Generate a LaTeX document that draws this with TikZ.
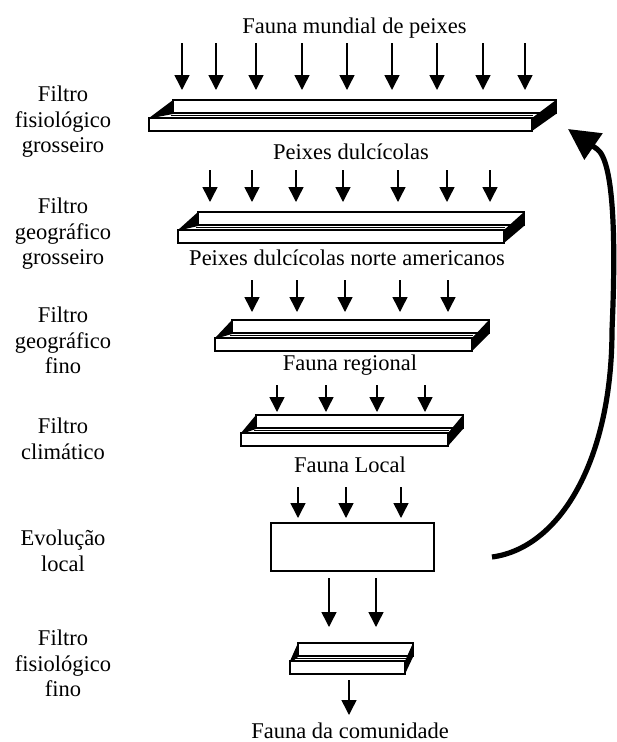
\documentclass[tikz,border=0pt]{standalone}
\usepackage{fontspec}
\setmainfont{Liberation Serif}
\usetikzlibrary{arrows.meta}
% tray: #1 = front left x, #2 = front right x, #3 = top y of back wall, #4 = depth offset x
\newcommand\mytray[4]{%
  \draw[line width=1.4pt, fill=white] (#1+#4,#3) rectangle (#2+#4,#3+13);
  \fill[black] (#1,#3+18) -- (#1+#4,#3) -- (#1+#4,#3+14) -- (#1+3,#3+18) -- cycle;
  \fill[black] (#2,#3+18) -- (#2+#4,#3) -- (#2+#4,#3+14) -- (#2,#3+31) -- cycle;
  \draw[line width=1pt] (#1+#4-2,#3+15.5) -- (#2+1,#3+15.5);
  \draw[line width=1.6pt, fill=white] (#1,#3+18) rectangle (#2,#3+31);
}
\tikzset{
  txtbase/.style={font=\fontsize{22.5}{25.7}\selectfont, inner sep=0pt},
  lbltxt/.style={txtbase, align=center, anchor=north},
  captxt/.style={txtbase, anchor=base},
  dnarrow/.style={line width=1.5pt, -{Triangle[length=15pt,width=15pt]}},
  fbarrow/.style={line width=5.2pt, -{Triangle[length=31pt,width=31pt]}},
  evobox/.style={draw, line width=1.5pt, minimum width=163pt, minimum height=48pt, inner sep=0pt}
}
\begin{document}
\begin{tikzpicture}[x=1pt,y=-1pt]
\useasboundingbox (0,0) rectangle (617,742);

% captions of the central column
\node[captxt] (c0) at (354.5,33) {Fauna mundial de peixes};
\node[captxt] (c1) at (351,159) {Peixes dulcícolas};
\node[captxt] (c2) at (347,265) {Peixes dulcícolas norte americanos};
\node[captxt] (c3) at (350,370) {Fauna regional};
\node[captxt] (c4) at (350,472) {Fauna Local};
\node[captxt] (c6) at (350,738) {Fauna da comunidade};

% left labels
\node[lbltxt] (l1) at (63,101-15.4) {Filtro\\fisiológico\\grosseiro};
\node[lbltxt] (l2) at (63,213-15.4) {Filtro\\geográfico\\grosseiro};
\node[lbltxt] (l3) at (63,322-15.4) {Filtro\\geográfico\\fino};
\node[lbltxt] (l4) at (63,433-15.4) {Filtro\\climático};
\node[lbltxt] (l5) at (63,545-15.4) {Evolução\\local};
\node[lbltxt] (l6) at (63,645-15.4) {Filtro\\fisiológico\\fino};

% filters
\mytray{149}{532}{100}{24}
\mytray{178}{504}{212}{20}
\mytray{215}{472}{320}{17}
\mytray{241}{448}{415}{15}
\mytray{290}{405}{643}{8}

% local evolution box
\node[evobox] (evo) at (352.5,547) {};

% arrows
\foreach \x in {182,216,256,302,347,392,437,483,525}
  \draw[dnarrow] (\x,43) -- (\x,90);
\foreach \x in {210,252,296,343,398,447,490}
  \draw[dnarrow] (\x,170) -- (\x,202);
\foreach \x in {252,297,345,400,448}
  \draw[dnarrow] (\x,280) -- (\x,312);
\foreach \x in {277,326,377,425}
  \draw[dnarrow] (\x,385) -- (\x,412);
\foreach \x in {298,346,401}
  \draw[dnarrow] (\x,487) -- (\x,518);
\foreach \x in {329,376}
  \draw[dnarrow] (\x,578) -- (\x,627);
\draw[dnarrow] (349,680) -- (349,715);

% feedback arrow
\coordinate (fbs) at (492,557);
\coordinate (fbe) at (568,129);
\draw[fbarrow] (fbs) .. controls (560,548) and (612,460) .. (612,330)
  .. controls (616,240) and (614,161) .. (597,149) -- (fbe);
\end{tikzpicture}
\end{document}
